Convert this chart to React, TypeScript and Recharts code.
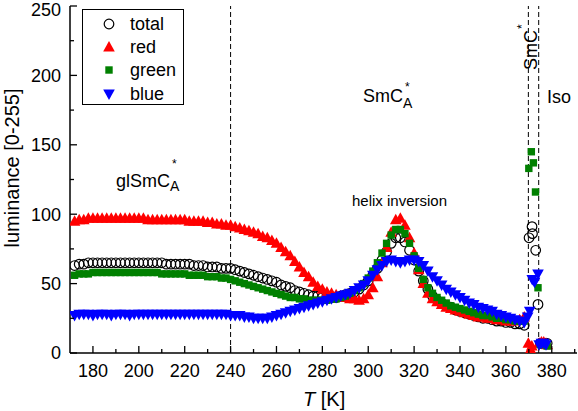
import React from 'react';
import { ScatterChart, Scatter, XAxis, YAxis, ReferenceLine } from 'recharts';

// temperature grid of the main sweep [K]
const temps = [
  172, 174, 176, 178, 180, 182, 184, 186, 188, 190, 192, 194, 196, 198, 200, 202, 204, 206, 208, 210,
  212, 214, 216, 218, 220, 222, 224, 226, 228, 230, 232, 234, 236, 238, 240, 242, 244, 246, 248, 250,
  252, 254, 256, 258, 260, 262, 264, 266, 268, 270, 272, 274, 276, 278, 280, 282, 284, 286, 288, 290,
  292, 294, 296, 298, 300, 302, 304, 306, 308, 310, 312, 314, 316, 318, 320, 322, 324, 326, 328, 330,
  332, 334, 336, 338, 340, 342, 344, 346, 348, 350, 352, 354, 356, 358, 360, 362, 364, 366, 368,
];

const totalLum = [
  63, 64, 64, 65, 65, 65, 65, 65, 65, 65, 65, 65, 65, 65, 65, 65, 65, 65, 65, 65,
  64, 64, 64, 64, 64, 64, 63, 63, 63, 62, 62, 62, 61, 61, 61, 60, 59, 58, 57, 56,
  55, 54, 53, 52, 51, 49, 48, 47, 45, 44, 43, 42, 41, 41, 40, 40, 40, 40, 41, 42,
  43, 44, 46, 49, 52, 56, 61, 67, 73, 79, 83, 83, 80, 74, 67, 59, 52, 46, 41, 38,
  36, 34, 33, 31, 30, 29, 28, 27, 26, 25, 25, 24, 23, 23, 22, 22, 21, 21, 20,
];

const redLum = [
  95, 96, 96, 97, 97, 97, 97, 97, 97, 97, 97, 97, 97, 97, 97, 97, 96, 96, 96, 96,
  96, 96, 96, 96, 96, 95, 95, 95, 95, 94, 94, 93, 93, 92, 92, 91, 90, 89, 88, 87,
  86, 84, 83, 81, 79, 76, 73, 70, 66, 62, 58, 55, 51, 48, 46, 44, 43, 42, 41, 40,
  39, 39, 38, 39, 42, 47, 55, 65, 76, 87, 96, 97, 92, 83, 72, 60, 50, 43, 39, 37,
  35, 33, 32, 31, 30, 29, 28, 27, 26, 26, 25, 25, 24, 24, 23, 23, 23, 24, 26,
];

const greenLum = [
  56, 57, 57, 57, 58, 58, 58, 58, 58, 58, 58, 58, 58, 58, 58, 58, 58, 58, 58, 57,
  57, 57, 57, 57, 57, 56, 56, 56, 56, 55, 55, 55, 54, 54, 53, 52, 51, 50, 49, 48,
  47, 46, 45, 44, 43, 42, 41, 40, 40, 39, 39, 38, 38, 38, 38, 38, 39, 39, 40, 41,
  43, 45, 47, 50, 54, 59, 65, 72, 79, 85, 89, 89, 86, 79, 70, 61, 53, 47, 43, 40,
  38, 36, 34, 33, 32, 31, 30, 29, 28, 27, 27, 26, 25, 25, 24, 24, 23, 23, 23,
];

const blueLum = [
  27, 28, 28, 28, 27, 28, 28, 28, 27, 28, 28, 28, 27, 28, 28, 28, 28, 28, 28, 28,
  28, 28, 28, 28, 28, 28, 28, 28, 28, 28, 28, 28, 28, 28, 27, 27, 27, 26, 26, 25,
  25, 25, 25, 26, 27, 28, 29, 30, 31, 32, 33, 34, 35, 36, 37, 38, 39, 40, 41, 42,
  43, 45, 47, 49, 52, 56, 60, 63, 66, 67, 66, 65, 66, 67, 67, 66, 63, 59, 55, 52,
  49, 46, 44, 42, 40, 38, 36, 35, 33, 32, 31, 30, 28, 27, 26, 25, 24, 23, 22,
];

// scattered readings across the SmC* / Iso transitions
const totalEdgeT = [370.1, 371.4, 371.6, 373.0, 374.0, 375.0, 376.0, 377.0, 378.0];
const totalEdgeV = [83, 91, 86, 74, 35, 7, 7, 7, 7];
const redEdgeT = [369.8, 370.5, 371.0, 371.3, 374.5, 375.5, 376.5, 377.5, 378.0];
const redEdgeV = [7, 2, 2, 5, 7, 8, 8, 7, 6];
const greenEdgeT = [370.0, 371.1, 372.0, 372.9, 374.0, 375.0, 376.0, 377.0, 378.0];
const greenEdgeV = [133, 145, 137, 116, 47, 6, 7, 7, 5];
const blueEdgeT = [369.5, 370.4, 371.5, 372.5, 374.0, 374.5, 375.5, 376.5, 377.5];
const blueEdgeV = [26, 30, 53, 51, 57, 6, 7, 7, 6];

const xTicks = [180, 190, 200, 210, 220, 230, 240, 250, 260, 270, 280, 290, 300, 310, 320, 330, 340, 350, 360, 370, 380, 390];
const yTicks = [0, 25, 50, 75, 100, 125, 150, 175, 200, 225, 250];
const phaseLines = [240, 369.8, 374.3];

const FONT = '"Liberation Sans", Arial, sans-serif';

const build = (vals: number[], edgeT: number[], edgeV: number[]) =>
  temps.map((t, i) => ({ t, v: vals[i] })).concat(edgeT.map((t, i) => ({ t, v: edgeV[i] })));

const totalData = build(totalLum, totalEdgeT, totalEdgeV);
const redData = build(redLum, redEdgeT, redEdgeV);
const greenData = build(greenLum, greenEdgeT, greenEdgeV);
const blueData = build(blueLum, blueEdgeT, blueEdgeV);

const OpenCircle = (p: any) => (
  <circle cx={p.cx} cy={p.cy} r={4.8} fill="none" stroke="#000" strokeWidth={1.2} />
);
const TriUp = (p: any) => (
  <polygon points={`${p.cx},${p.cy - 6} ${p.cx - 5.8},${p.cy + 4.5} ${p.cx + 5.8},${p.cy + 4.5}`} fill="#ff0000" />
);
const TriDown = (p: any) => (
  <polygon points={`${p.cx},${p.cy + 6} ${p.cx - 5.8},${p.cy - 4.5} ${p.cx + 5.8},${p.cy - 4.5}`} fill="#0000ff" />
);
const Square = (p: any) => (
  <rect x={p.cx - 3.7} y={p.cy - 3.7} width={7.4} height={7.4} fill="#008000" />
);

// ticks point into the plot; minor ticks carry no label
const XTick = ({ x, y, payload }: any) => {
  const major = payload.value % 20 === 0;
  return (
    <g>
      <line x1={x} x2={x} y1={y} y2={y - (major ? 7 : 4)} stroke="#000" strokeWidth={1.3} />
      {major && (
        <text x={x} y={y + 24} textAnchor="middle" fontSize={18} fontFamily={FONT} fill="#000">
          {payload.value}
        </text>
      )}
    </g>
  );
};

const YTick = ({ x, y, payload }: any) => {
  const major = payload.value % 50 === 0;
  return (
    <g>
      <line x1={x} x2={x + (major ? 7 : 4)} y1={y} y2={y} stroke="#000" strokeWidth={1.3} />
      {major && (
        <text x={x - 9} y={Math.max(y + 6.4, 16)} textAnchor="end" fontSize={18} fontFamily={FONT} fill="#000">
          {payload.value}
        </text>
      )}
    </g>
  );
};

const legendRows = [
  { name: 'total', Shape: OpenCircle },
  { name: 'red', Shape: TriUp },
  { name: 'green', Shape: Square },
  { name: 'blue', Shape: TriDown },
];

const LegendBox = () => (
  <div
    style={{
      position: 'absolute', left: 82, top: 9, width: 102, height: 96,
      border: '1px solid #000', background: '#fff', boxSizing: 'border-box', paddingTop: 2,
    }}
  >
    {legendRows.map(({ name, Shape }) => (
      <div key={name} style={{ display: 'flex', alignItems: 'center', height: 23.4 }}>
        <svg width={40} height={20} style={{ flex: 'none' }}>
          <Shape cx={26} cy={10} />
        </svg>
        <span style={{ fontFamily: FONT, fontSize: 18, marginLeft: 7, lineHeight: '20px' }}>{name}</span>
      </div>
    ))}
  </div>
);

export default function App() {
  return (
    <div style={{ position: 'absolute', left: 0, top: 0, width: 578, height: 411, background: '#fff' }}>
      <ScatterChart width={578} height={411} margin={{ top: 6, right: 1, bottom: 0, left: 0 }}>
        <XAxis
          type="number"
          dataKey="t"
          domain={[170, 391]}
          ticks={xTicks}
          interval={0}
          allowDataOverflow
          height={58}
          tickSize={0}
          tickMargin={0}
          tick={<XTick />}
          axisLine={{ stroke: '#000', strokeWidth: 1.5 }}
        />
        <YAxis
          type="number"
          dataKey="v"
          domain={[0, 250]}
          ticks={yTicks}
          interval={0}
          allowDataOverflow
          width={70}
          tickSize={0}
          tickMargin={0}
          tick={<YTick />}
          axisLine={{ stroke: '#000', strokeWidth: 1.5 }}
        />
        {phaseLines.map((x) => (
          <ReferenceLine key={x} x={x} stroke="#000" strokeWidth={1} strokeDasharray="5 3" />
        ))}
        <Scatter name="total" data={totalData} shape={OpenCircle} isAnimationActive={false} />
        <Scatter name="red" data={redData} shape={TriUp} isAnimationActive={false} />
        <Scatter name="green" data={greenData} shape={Square} isAnimationActive={false} />
        <Scatter name="blue" data={blueData} shape={TriDown} isAnimationActive={false} />
      </ScatterChart>

      <LegendBox />

      <svg width={578} height={411} style={{ position: 'absolute', left: 0, top: 0, pointerEvents: 'none' }}>
        <g fontFamily={FONT} fill="#000">
          <text x={116} y={187} fontSize={18}>glSmC</text>
          <text x={172} y={168} fontSize={12}>*</text>
          <text x={170} y={191} fontSize={14}>A</text>

          <text x={363} y={102} fontSize={18}>SmC</text>
          <text x={405} y={91} fontSize={12}>*</text>
          <text x={403} y={108} fontSize={14}>A</text>

          <text x={352} y={206} fontSize={15}>helix inversion</text>

          <text x={547} y={103} fontSize={18}>Iso</text>

          <g transform="rotate(-90 537 70)">
            <text x={537} y={70} fontSize={18}>SmC</text>
            <text x={578} y={59} fontSize={12}>*</text>
          </g>

          <text x={303} y={406} fontSize={20}>
            <tspan fontStyle="italic">T</tspan> [K]
          </text>
          <text x={19} y={168} fontSize={20} textAnchor="middle" transform="rotate(-90 19 168)">
            luminance [0-255]
          </text>
        </g>
      </svg>
    </div>
  );
}
